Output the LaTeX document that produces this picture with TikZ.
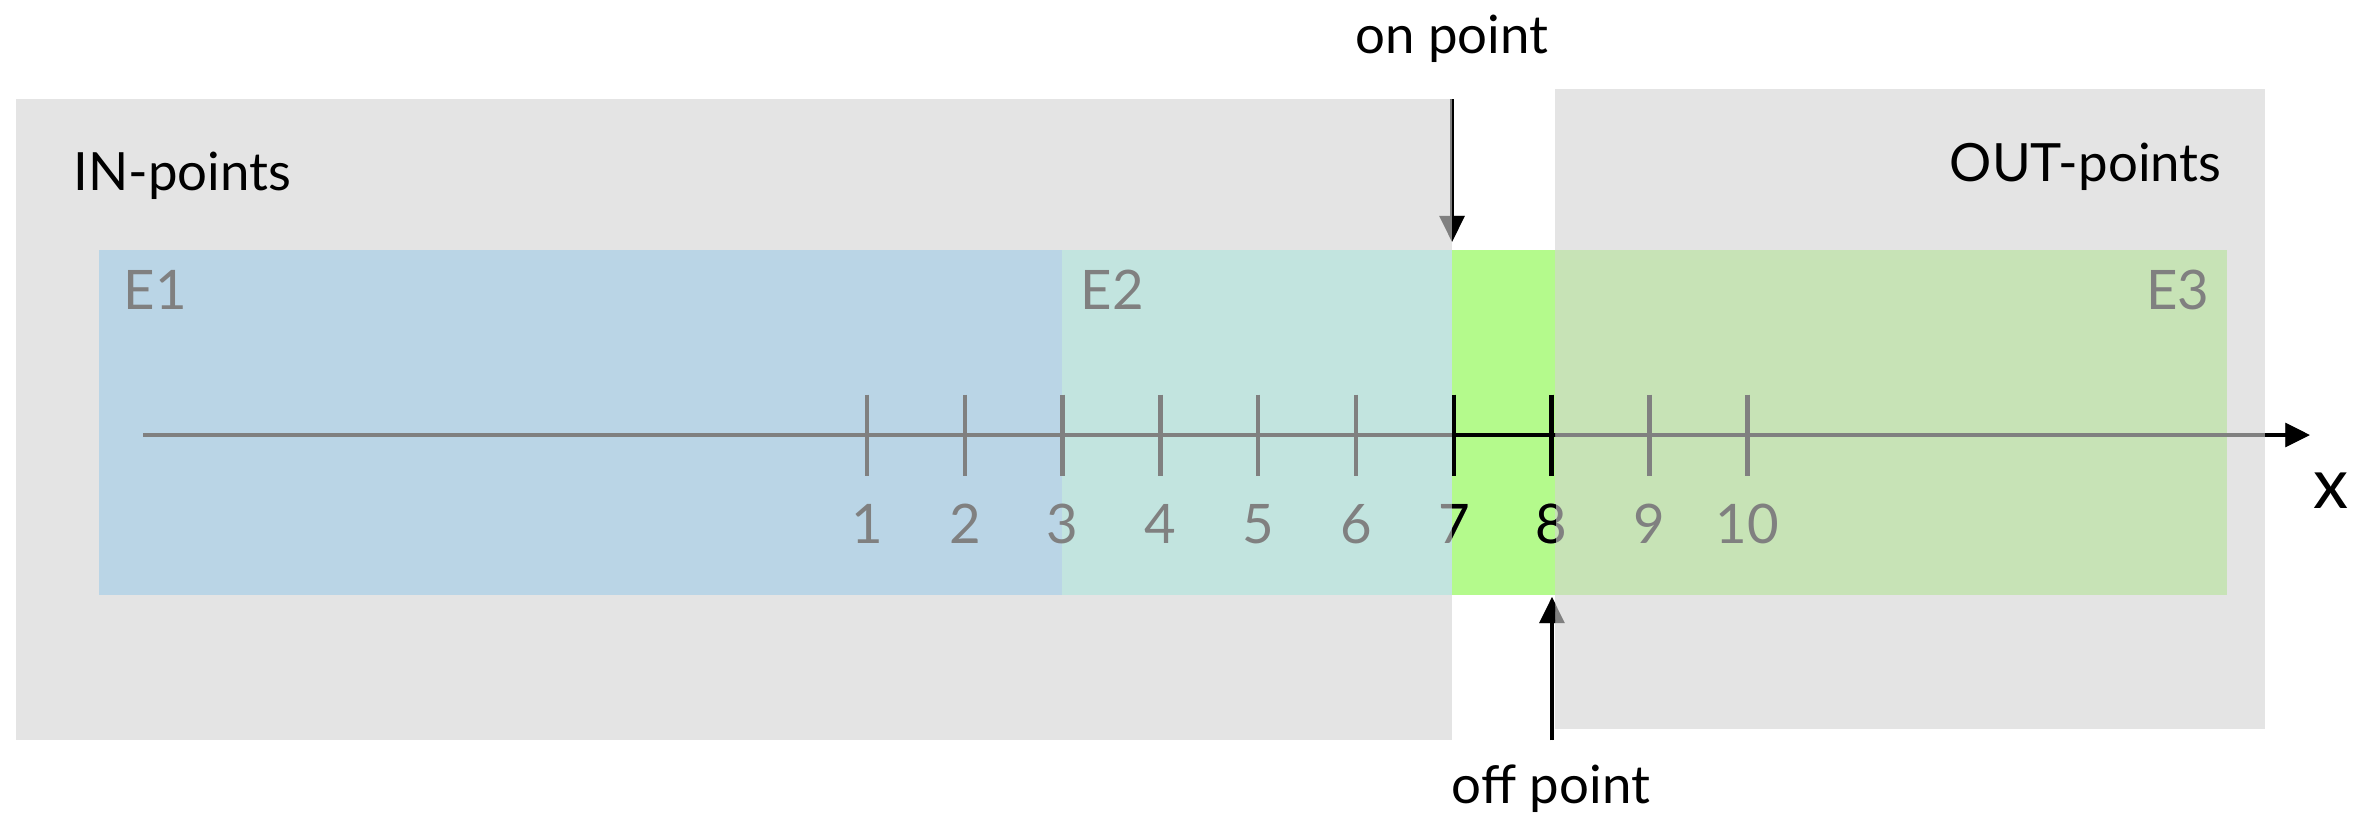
\documentclass[tikz,border=0pt]{standalone}
\usepackage{fontspec}
\setmainfont{Lato}
\usetikzlibrary{arrows.meta}

\definecolor{panelgray}{HTML}{E4E4E4}
\definecolor{eoneblue}{HTML}{BAD5E6}
\definecolor{etwoteal}{HTML}{C2E4DF}
\definecolor{boundgreen}{HTML}{B4FA8C}
\definecolor{ethreegreen}{HTML}{C7E3B6}
\definecolor{inkgray}{HTML}{808080}

\tikzset{
  panel/.style={fill=panelgray},
  title/.style={inner sep=0pt, font=\fontsize{15}{18}\selectfont, text=black},
  classlabel/.style={inner sep=0pt, font=\fontsize{15.5}{18}\selectfont, text=inkgray},
  ticklabel/.style={inner sep=0pt, anchor=base, font=\fontsize{15.5}{18}\selectfont},
  axisline/.style={line width=1.3pt, -{Triangle[length=7pt,width=6.6pt]}},
  tickmark/.style={line width=1.3pt},
  pointer/.style={line width=1pt, -{Triangle[length=7.4pt,width=7pt]}},
}

\begin{document}
\begin{tikzpicture}[x=0.01cm, y=-0.01cm]
\useasboundingbox (0,0) rectangle (2375,814);

% input and output domains
\fill[panel] (16,99) rectangle (1452,740);
\fill[panel] (1555,89) rectangle (2265,729);

% equivalence classes along the axis
\fill[eoneblue]    (99,250)   rectangle (1062,595);
\fill[etwoteal]    (1062,250) rectangle (1452,595);
\fill[boundgreen]  (1452,250) rectangle (1555,595);
\fill[ethreegreen] (1555,250) rectangle (2227,595);

\node[title, anchor=base west] (inlab)  at (73,190)   {IN-points};
\node[title, anchor=base east] (outlab) at (2222,181) {OUT-points};
\node[classlabel, anchor=base west] (e1) at (123,309)  {E1};
\node[classlabel, anchor=base west] (e2) at (1080,309) {E2};
\node[classlabel, anchor=base east] (e3) at (2210,309) {E3};

% number line
\coordinate (axstart) at (143,435);
\coordinate (axend)   at (2310,435);
\draw[axisline, draw=inkgray, fill=inkgray] (axstart) -- (axend);
\foreach \k in {1,...,10} {
  \coordinate (t\k) at ({867+97.8*(\k-1)},435);
  \draw[tickmark, inkgray] (t\k) ++(0,-40.5) -- ++(0,81);
  \node[ticklabel, text=inkgray] (lab\k) at ({867+97.8*(\k-1)},543) {\k};
}

% boundary markers
\coordinate (ontop)  at (1452,99);
\coordinate (ontip)  at (1452,242);
\coordinate (offbot) at (1552,740);
\coordinate (offtip) at (1552,597);
\draw[pointer, draw=inkgray, fill=inkgray] (ontop) -- (ontip);
\draw[pointer, draw=inkgray, fill=inkgray] (offbot) -- (offtip);

% everything outside the two domains is inked in black
\begin{scope}[even odd rule]
  \clip (0,0) rectangle (2375,814)
        (16,99) rectangle (1452,740)
        (1555,89) rectangle (2265,729);
  \draw[axisline, draw=black, fill=black] (axstart) -- (axend);
  \draw[tickmark, black] (t7) ++(0,-40.5) -- ++(0,81);
  \draw[tickmark, black] (t8) ++(0,-40.5) -- ++(0,81);
  \draw[tickmark, black] (t7) -- (t8);
  \node[ticklabel, text=black] (lab7ink) at (lab7.base) {7};
  \node[ticklabel, text=black] (lab8ink) at (lab8.base) {8};
  \draw[pointer, draw=black, fill=black] (ontop) -- (ontip);
  \draw[pointer, draw=black, fill=black] (offbot) -- (offtip);
\end{scope}

\node[title, anchor=base] (onlab)  at (1452,53)  {on point};
\node[title, anchor=base] (offlab) at (1551,803) {off point};
\node[title, anchor=base, font=\fontsize{20}{24}\selectfont] (xlab) at (2331,508) {x};
\end{tikzpicture}
\end{document}
